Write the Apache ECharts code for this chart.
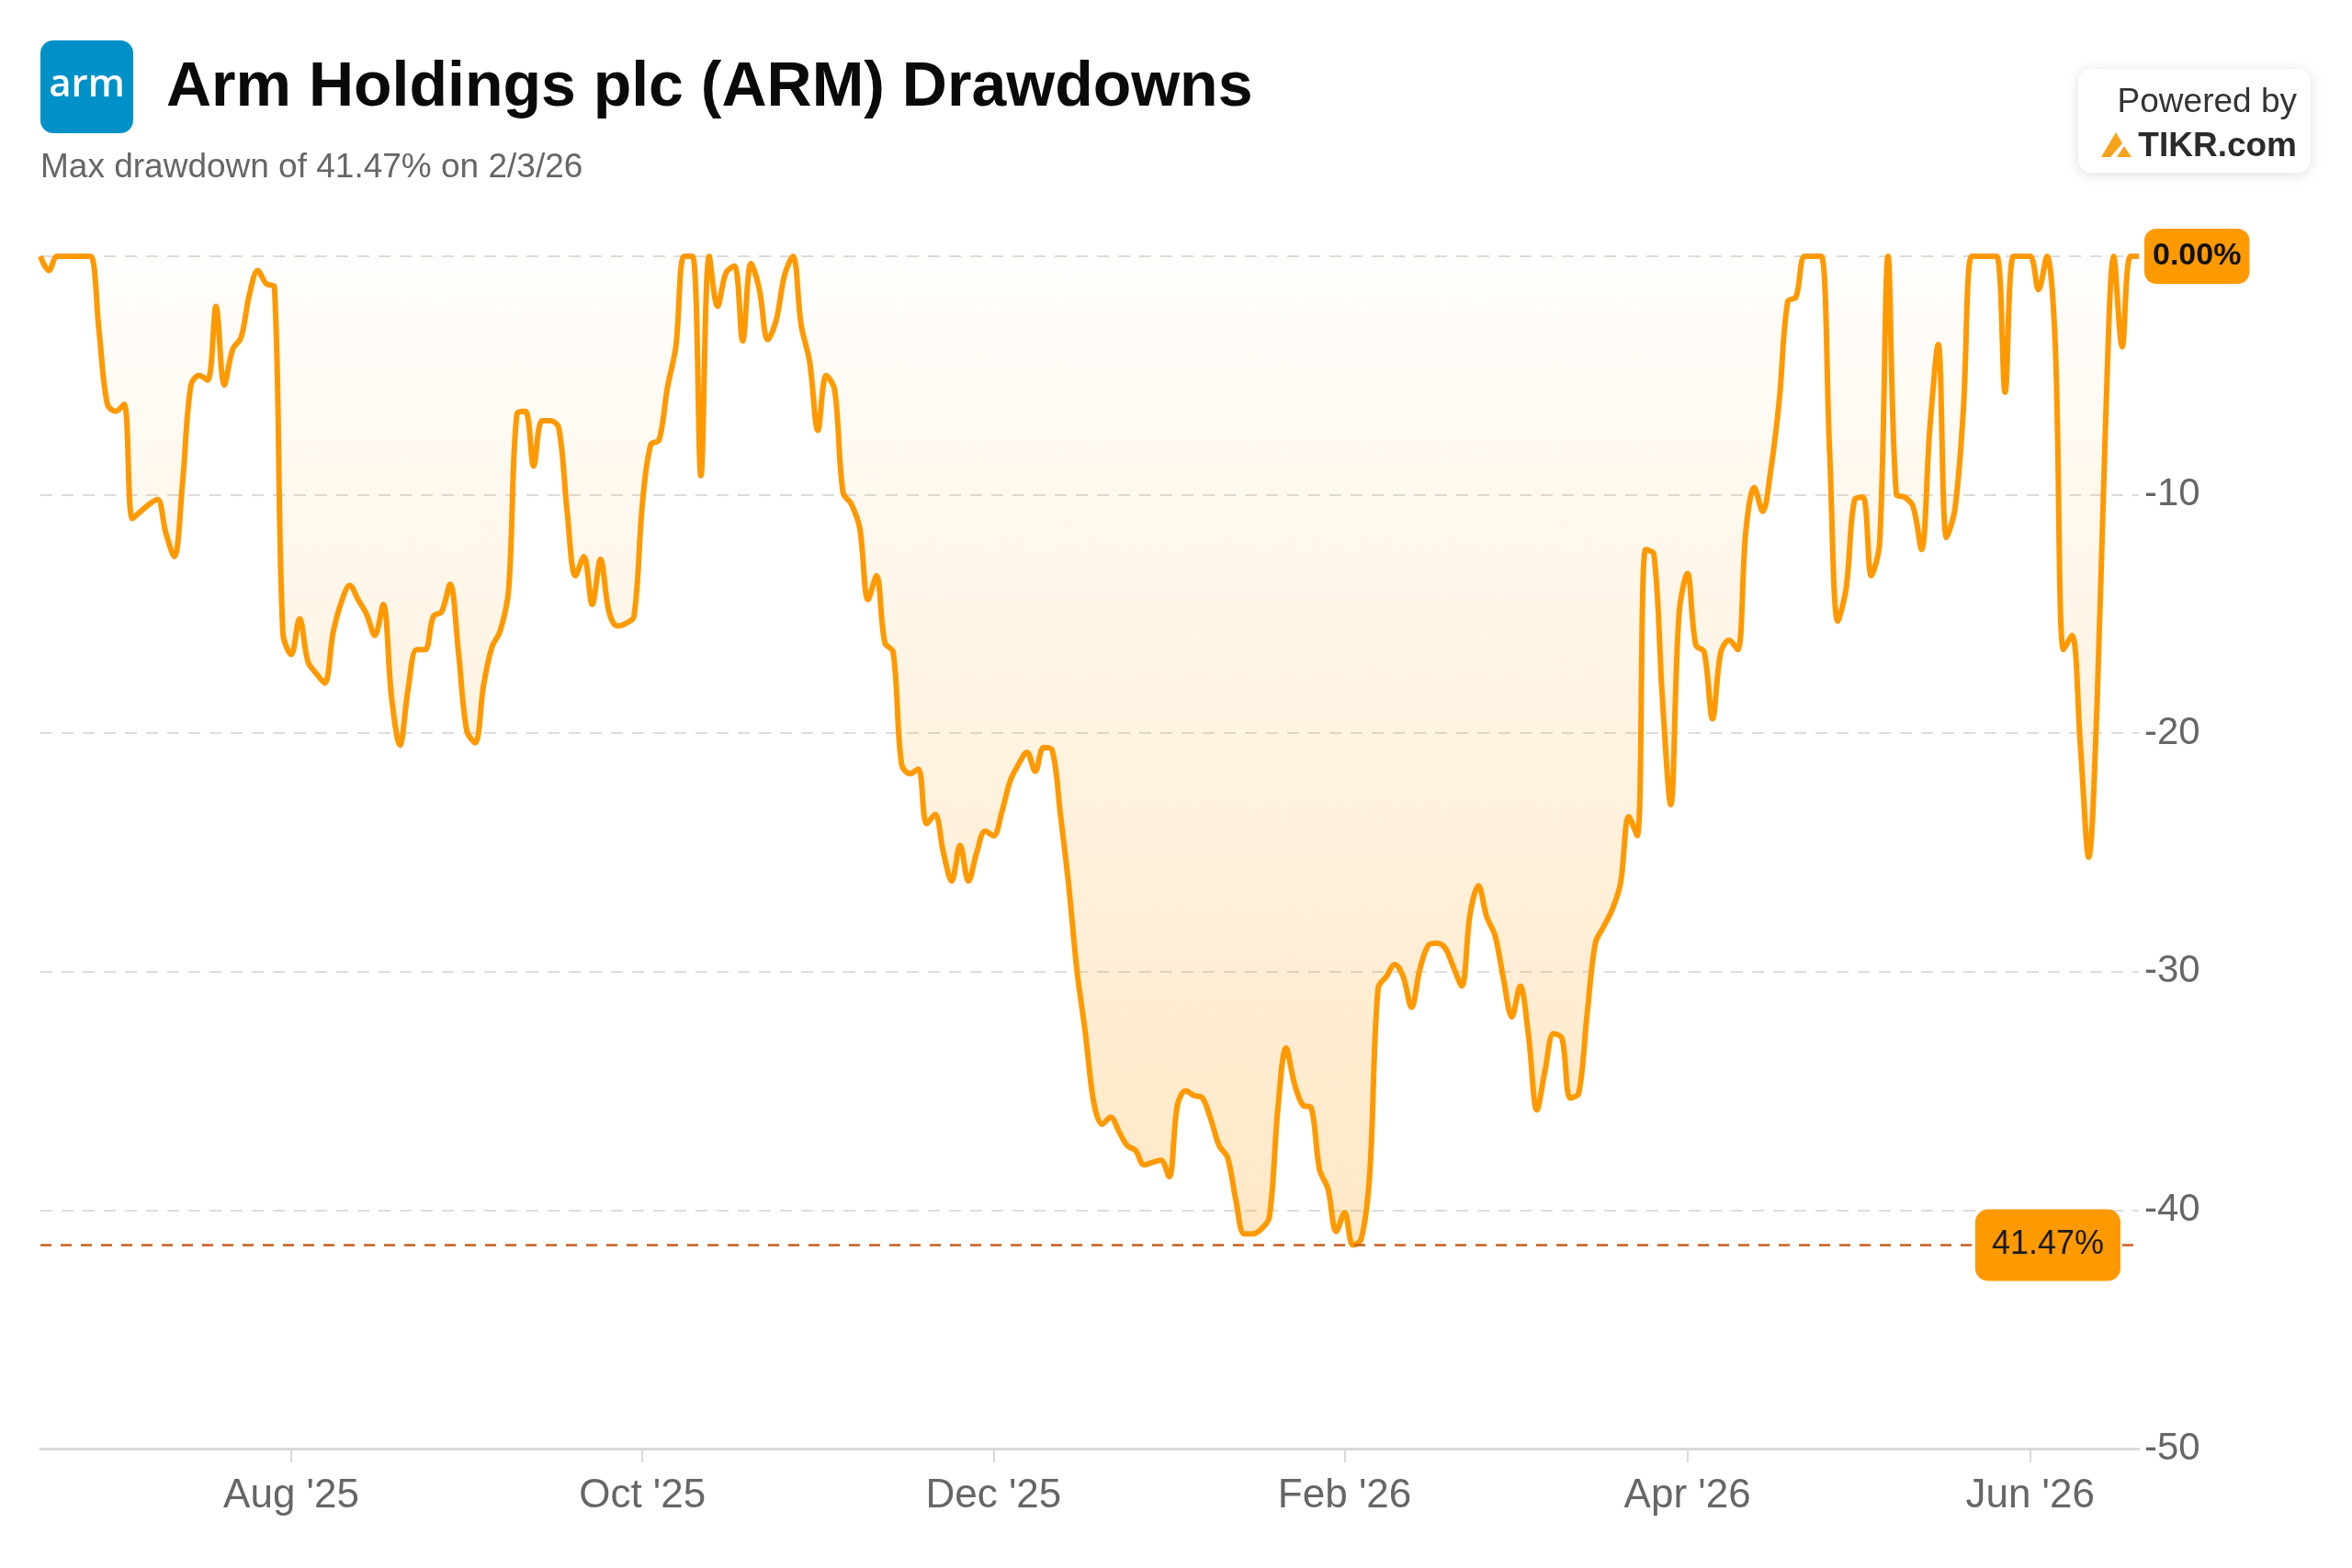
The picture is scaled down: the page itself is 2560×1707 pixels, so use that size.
<!DOCTYPE html>
<html>
<head>
<meta charset="utf-8">
<script src="https://cdn.jsdelivr.net/npm/echarts@6/dist/echarts.min.js"></script>
<style>
html,body{margin:0;padding:0;background:#fff;}
#chart{width:2560px;height:1707px;}
</style>
</head>
<body>
<div id="chart"></div>
<script>
// ---- Data ----
const startDate = '2025-06-18';
const endDate = '2026-06-18';
const marketHolidays = ['2025-06-19','2025-07-04','2025-09-01','2025-11-27','2025-12-25',
  '2026-01-01','2026-01-19','2026-02-16','2026-04-03','2026-05-25','2026-06-19'];
const tickMonths = [7, 9, 11, 1, 3, 5]; // Aug, Oct, Dec, Feb, Apr, Jun
const monthNames = ['Jan','Feb','Mar','Apr','May','Jun','Jul','Aug','Sep','Oct','Nov','Dec'];

// drawdown (%) per trading day
const drawdownPct = [
  0, -0.6, 0, 0, 0, 0, 0, -3.1, -6.2, -6.5,
  -6.2, -11.0, -10.7, -10.4, -10.2, -11.6, -12.6, -9.5, -5.4, -5.0,
  -5.2, -2.1, -5.4, -3.9, -3.4, -1.6, -0.6, -1.15, -1.3, -15.8,
  -16.7, -15.2, -17.0, -17.5, -17.9, -15.8, -14.5, -13.8, -14.4, -15.0,
  -15.9, -14.6, -18.5, -20.5, -18.1, -16.5, -16.5, -15.1, -14.9, -13.75,
  -16.6, -19.9, -20.4, -18.0, -16.4, -15.7, -14.0, -6.6, -6.5, -8.8,
  -6.9, -6.9, -7.2, -10.7, -13.4, -12.6, -14.6, -12.7, -14.9, -15.5,
  -15.4, -15.1, -10.4, -7.9, -7.7, -5.5, -3.8, 0, 0, -9.2,
  0, -2.1, -0.7, -0.4, -3.55, -0.3, -1.4, -3.5, -2.7, -0.8,
  0, -2.9, -4.4, -7.3, -5.0, -5.6, -9.9, -10.4, -11.4, -14.4,
  -13.4, -16.2, -16.6, -21.3, -21.7, -21.5, -23.8, -23.4, -25.0, -26.2,
  -24.7, -26.2, -25.0, -24.1, -24.3, -23.3, -22.0, -21.3, -20.8, -21.6,
  -20.6, -20.7, -23.4, -26.4, -30.0, -32.6, -35.5, -36.4, -36.1, -36.7,
  -37.3, -37.5, -38.1, -38.0, -37.9, -38.6, -35.6, -35.0, -35.2, -35.3,
  -36.2, -37.3, -37.8, -39.6, -41.0, -41.0, -40.8, -40.3, -35.8, -33.2,
  -34.7, -35.6, -35.7, -38.3, -39.1, -40.9, -40.1, -41.47, -41.2, -38.5,
  -30.7, -30.2, -29.7, -30.2, -31.5, -29.9, -28.9, -28.8, -29.0, -29.8,
  -30.6, -27.6, -26.4, -27.7, -28.5, -30.3, -31.9, -30.6, -32.7, -35.8,
  -34.1, -32.6, -32.8, -35.3, -35.1, -31.8, -28.8, -28.1, -27.4, -26.3,
  -23.5, -24.3, -12.3, -12.5, -18.5, -23.0, -15.0, -13.3, -16.3, -16.6,
  -19.4, -16.6, -16.1, -16.5, -11.5, -9.7, -10.7, -8.9, -6.0, -1.9,
  -1.7, 0, 0, 0, -8.1, -15.3, -13.9, -10.2, -10.1, -13.4,
  -12.0, 0, -10.0, -10.1, -10.5, -12.3, -7.2, -3.7, -11.8, -10.6,
  -6.5, 0, 0, 0, 0, -5.7, 0, 0, 0, -1.4,
  0, -3.7, -16.5, -15.9, -20.5, -25.2, -18.8, -7.2, 0, -3.8,
  0, 0
];
const yTicks = { min: -50, max: 0, interval: 10 };

// ---- Build trading-day categories ----
function buildTradingDays() {
  const out = [];
  let d = new Date(startDate + 'T00:00:00Z');
  const end = new Date(endDate + 'T00:00:00Z');
  while (d <= end) {
    const wd = d.getUTCDay();
    const s = d.toISOString().slice(0, 10);
    if (wd !== 0 && wd !== 6 && marketHolidays.indexOf(s) < 0) out.push(s);
    d = new Date(d.getTime() + 86400000);
  }
  return out;
}
const dates = buildTradingDays();

const tickIdx = new Set();
dates.forEach((s, i) => {
  const m = +s.slice(5, 7) - 1;
  const pm = i > 0 ? +dates[i - 1].slice(5, 7) - 1 : -1;
  if (i > 0 && m !== pm && tickMonths.indexOf(m) >= 0) tickIdx.add(i);
});
const isTick = (idx) => tickIdx.has(idx);
const fmtDate = (s) => monthNames[+s.slice(5, 7) - 1] + " '" + s.slice(2, 4);

let minIdx = 0;
drawdownPct.forEach((v, i) => { if (v < drawdownPct[minIdx]) minIdx = i; });
const maxDD = drawdownPct[minIdx];
const maxDDDate = dates[minIdx];
const ddDateStr = (+maxDDDate.slice(5, 7)) + '/' + (+maxDDDate.slice(8, 10)) + '/' + maxDDDate.slice(2, 4);
const lastVal = drawdownPct[drawdownPct.length - 1];

const FONT = "'Liberation Sans', Arial, Helvetica, sans-serif";

const chart = echarts.init(document.getElementById('chart'), null, { renderer: 'canvas', width: 2560, height: 1707 });
chart.setOption({
  animation: false,
  backgroundColor: '#ffffff',
  textStyle: { fontFamily: FONT },
  grid: { left: 44, right: 232, top: 279, bottom: 130, containLabel: false },
  xAxis: {
    type: 'category',
    data: dates,
    boundaryGap: false,
    axisLine: { show: true, onZero: false, lineStyle: { color: '#d9d9d9', width: 3 } },
    axisTick: { show: true, interval: (i) => isTick(i), length: 15, lineStyle: { color: '#d9d9d9', width: 2 } },
    axisLabel: { interval: (i) => isTick(i), formatter: (v) => fmtDate(v), color: '#666666', fontSize: 44, margin: 30, fontFamily: FONT },
    splitLine: { show: false }
  },
  yAxis: {
    type: 'value',
    position: 'right',
    min: yTicks.min, max: yTicks.max, interval: yTicks.interval,
    axisLine: { show: false },
    axisTick: { show: false },
    splitLine: { show: true, lineStyle: { color: '#dcdcdc', type: [13, 10], width: 2 } },
    axisLabel: {
      margin: 6, color: '#666666', fontSize: 42, fontFamily: FONT,
      formatter: (v) => v === 0 ? '{badge|' + Math.abs(lastVal).toFixed(2) + '%}' : String(v),
      rich: {
        badge: { backgroundColor: '#FF9900', color: '#111111', fontWeight: 'bold', fontSize: 34,
                 padding: [13, 9, 13, 9], borderRadius: 13, fontFamily: FONT }
      }
    }
  },
  series: [{
    type: 'line',
    data: drawdownPct,
    smooth: 0.35,
    symbol: 'none',
    lineStyle: { color: '#FF9900', width: 6 },
    areaStyle: {
      color: new echarts.graphic.LinearGradient(0, 0, 0, 1, [
        { offset: 0, color: 'rgba(255,153,0,0.02)' },
        { offset: 1, color: 'rgba(255,153,0,0.32)' }
      ])
    },
    emphasis: { disabled: true },
    markLine: {
      silent: true,
      symbol: ['none', 'none'],
      data: [{ yAxis: maxDD }],
      lineStyle: { color: '#C65E1C', type: [12, 10], width: 2.5 },
      label: {
        show: true,
        position: 'insideEnd',
        distance: [20, 0],
        formatter: Math.abs(maxDD).toFixed(2) + '%',
        backgroundColor: '#FF9900',
        color: '#1a1a1a',
        fontSize: 36,
        fontFamily: FONT,
        padding: [21, 18, 21, 18],
        borderRadius: 14
      },
      emphasis: { disabled: true }
    }
  }],
  graphic: [
    { type: 'rect', shape: { x: 44, y: 44, width: 101, height: 101, r: 14 }, style: { fill: '#0091C8' } },
    { type: 'text', x: 94.5, y: 93, style: { text: 'arm', fill: '#ffffff', fontSize: 42, fontWeight: 600, fontFamily: "'Open Sans', 'Noto Sans', sans-serif", align: 'center', verticalAlign: 'middle' } },
    { type: 'text', x: 181, y: 96, style: { text: 'Arm Holdings plc (ARM) Drawdowns', fill: '#0a0a0a', fontSize: 68, fontWeight: 'bold', fontFamily: FONT, align: 'left', verticalAlign: 'middle' } },
    { type: 'text', x: 44, y: 183, style: { text: 'Max drawdown of ' + Math.abs(maxDD).toFixed(2) + '% on ' + ddDateStr, fill: '#666666', fontSize: 37, fontFamily: FONT, align: 'left', verticalAlign: 'middle' } },
    { type: 'rect', shape: { x: 2262, y: 75, width: 253, height: 113, r: 14 }, style: { fill: '#ffffff', shadowBlur: 14, shadowColor: 'rgba(0,0,0,0.13)', shadowOffsetY: 2 } },
    { type: 'text', x: 2500, y: 112, style: { text: 'Powered by', fill: '#333333', fontSize: 37, fontFamily: FONT, align: 'right', verticalAlign: 'middle' } },
    { type: 'text', x: 2500, y: 160, style: { text: 'TIKR.com', fill: '#2b2b2b', fontSize: 37, fontWeight: 'bold', fontFamily: FONT, align: 'right', verticalAlign: 'middle' } },
    { type: 'polygon', shape: { points: [[2287, 171], [2303, 144], [2310, 156], [2297, 171]] }, style: { fill: '#F7A21B' } },
    { type: 'polygon', shape: { points: [[2304, 171], [2312, 159], [2320, 171]] }, style: { fill: '#F7A21B' } }
  ]
});
</script>
</body>
</html>
